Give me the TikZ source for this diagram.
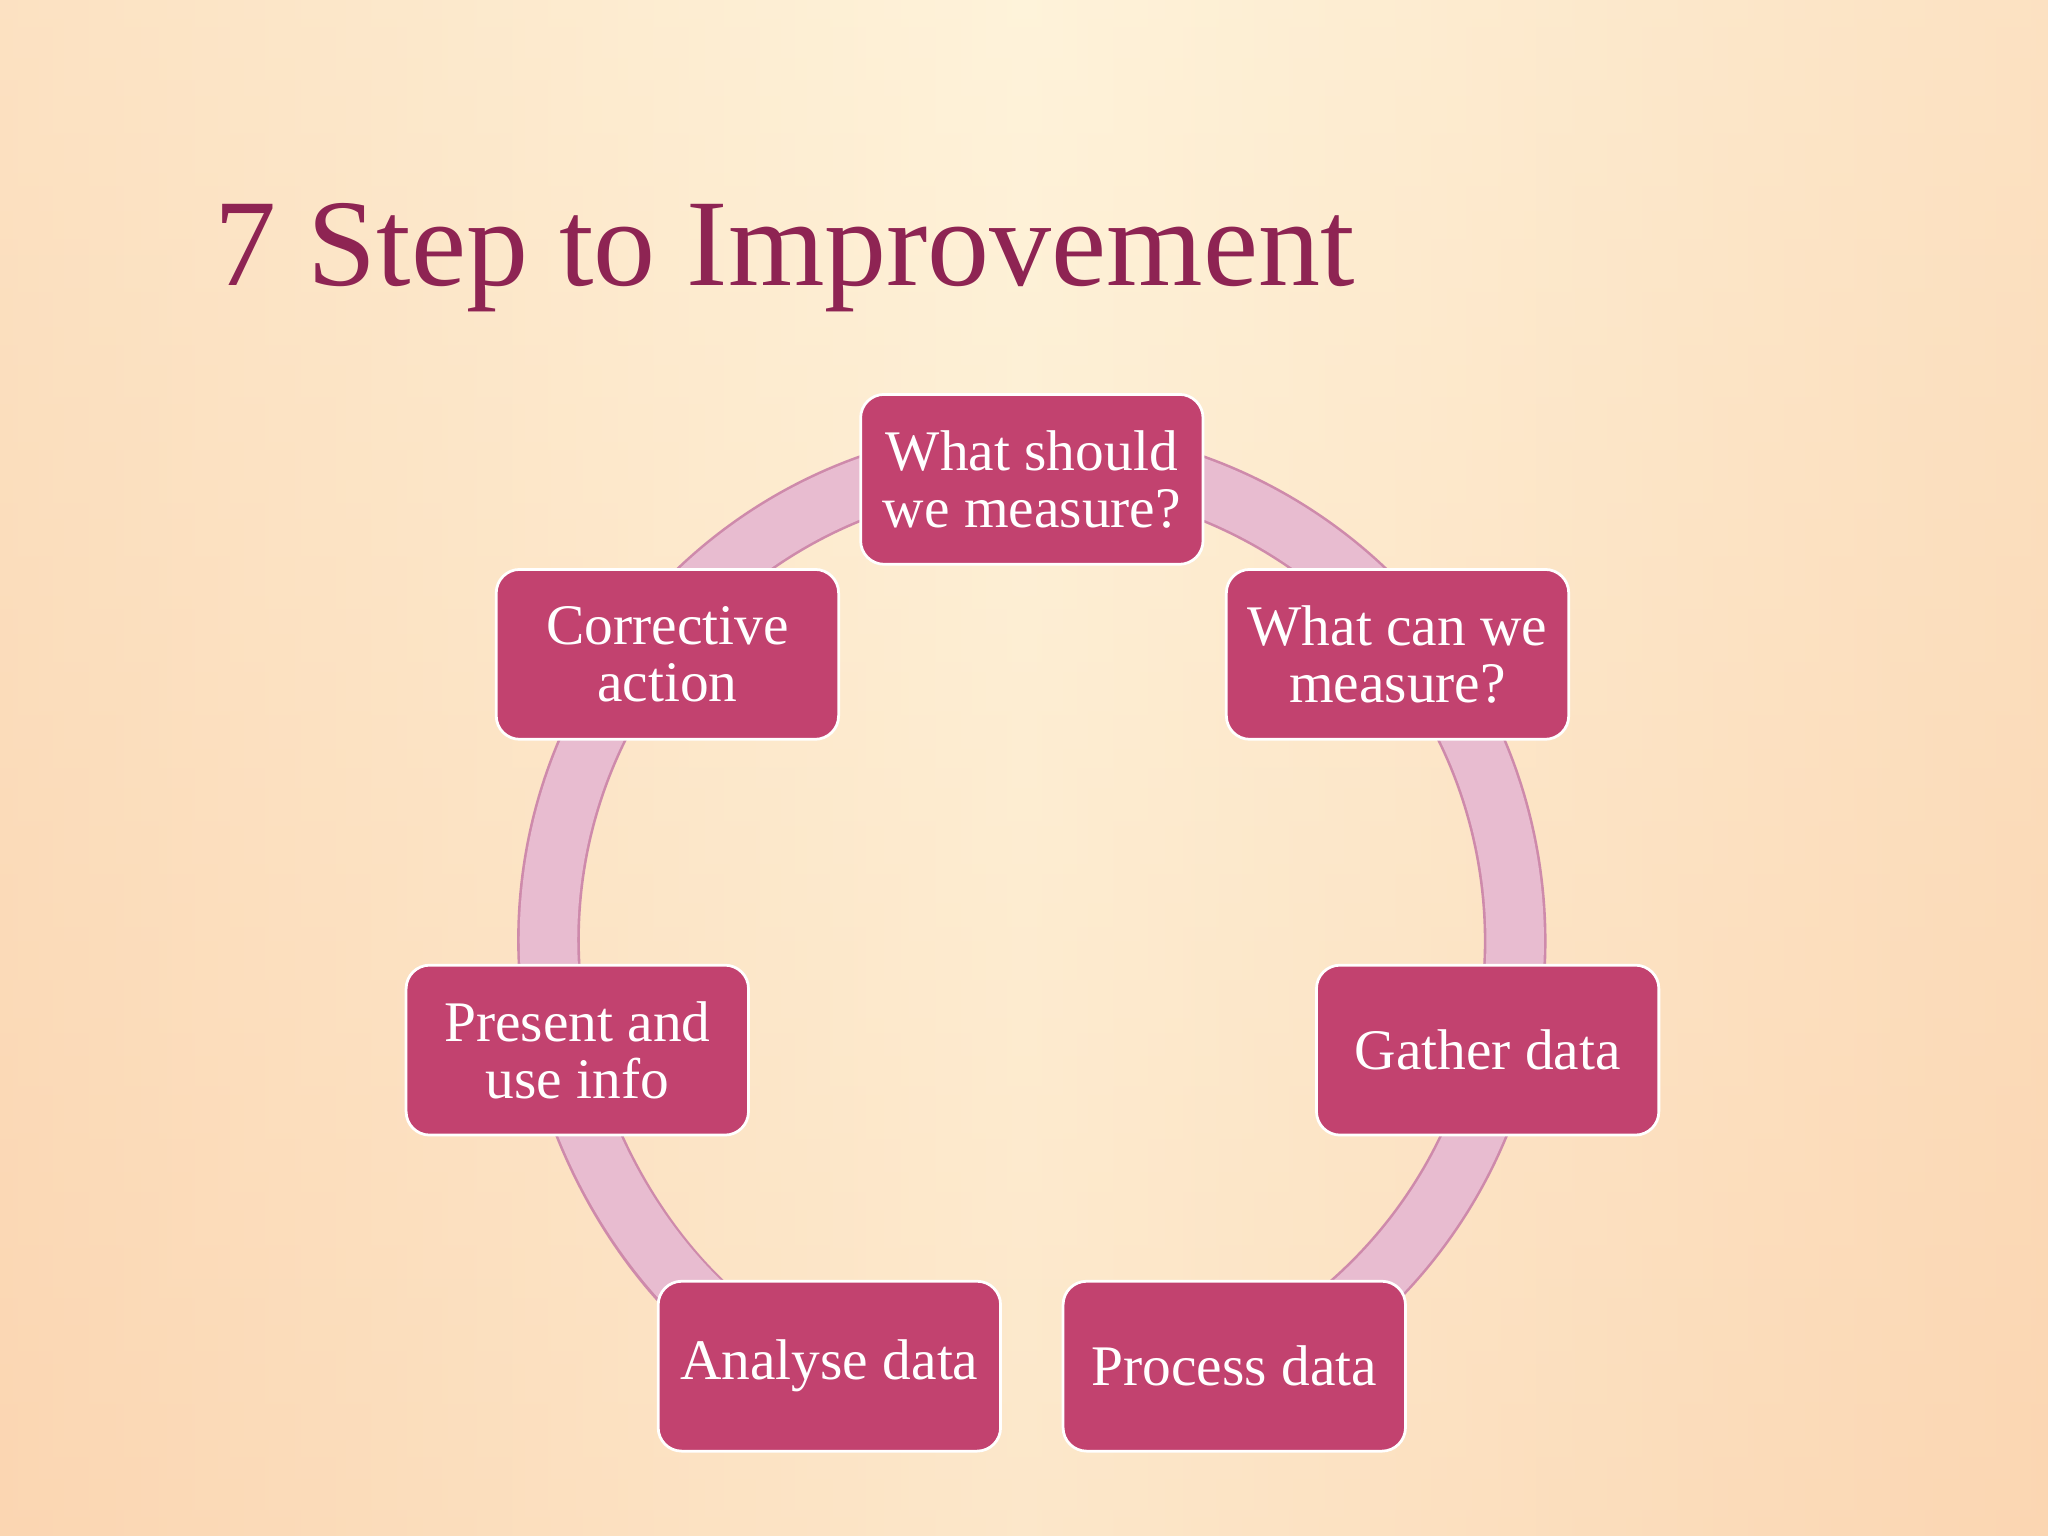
\documentclass[tikz,border=0pt]{standalone}
\usepackage{fontspec}
\setmainfont{Liberation Serif}
\usetikzlibrary{arrows.meta}
\definecolor{bgA}{HTML}{FBD6B2}
\definecolor{bgB}{HTML}{FEF3DA}
\definecolor{boxc}{HTML}{C2426F}
\definecolor{ringc}{HTML}{E8BCD0}
\definecolor{ringl}{HTML}{CE8AAB}
\definecolor{titlec}{HTML}{8E2453}
\tikzset{
 stepbox/.style={draw=white, line width=0.6pt, fill=boxc, rounded corners=0.18cm,
  minimum width=2.62cm, minimum height=1.3cm, text=white, align=center,
  font=\fontsize{12.5}{12.5}\selectfont, inner sep=0pt},
}
\begin{document}
\begin{tikzpicture}[x=0.01cm,y=-0.01cm]
\useasboundingbox (0,0) rectangle (1568,1176);
\shade[left color=bgA, right color=bgA, middle color=bgB] (0,0) rectangle (1568,1176);
\shade[top color=bgB, bottom color=bgA, opacity=0.4] (0,0) rectangle (1568,1176);
\node[anchor=west, text=titlec, font=\fontsize{27}{27}\selectfont] (title) at (152,197) {7 Step to Improvement};
\coordinate (c) at (790,720);
% ring
\draw[ringl, line width=0.48cm, -{Triangle[length=0.5cm,width=1.0cm]}] ([shift={(80:370)}]c) arc[start angle=80, end angle=-247, radius=370];
\draw[ringc, line width=0.44cm, -{Triangle[length=0.46cm,width=0.94cm]}] ([shift={(80:370)}]c) arc[start angle=80, end angle=-246.6, radius=370];
\node[stepbox] (s1) at (790,367) {What should\\we measure?};
\node[stepbox] (s2) at (1070,501) {What can we\\measure?};
\node[stepbox] (s3) at (1139,804) {Gather data};
\node[stepbox] (s4) at (945,1046) {Process data};
\node[stepbox] (s5) at (635,1046) {Analyse data};
\node[stepbox] (s6) at (442,804) {Present and\\use info};
\node[stepbox] (s7) at (511,501) {Corrective\\action};
\end{tikzpicture}
\end{document}
